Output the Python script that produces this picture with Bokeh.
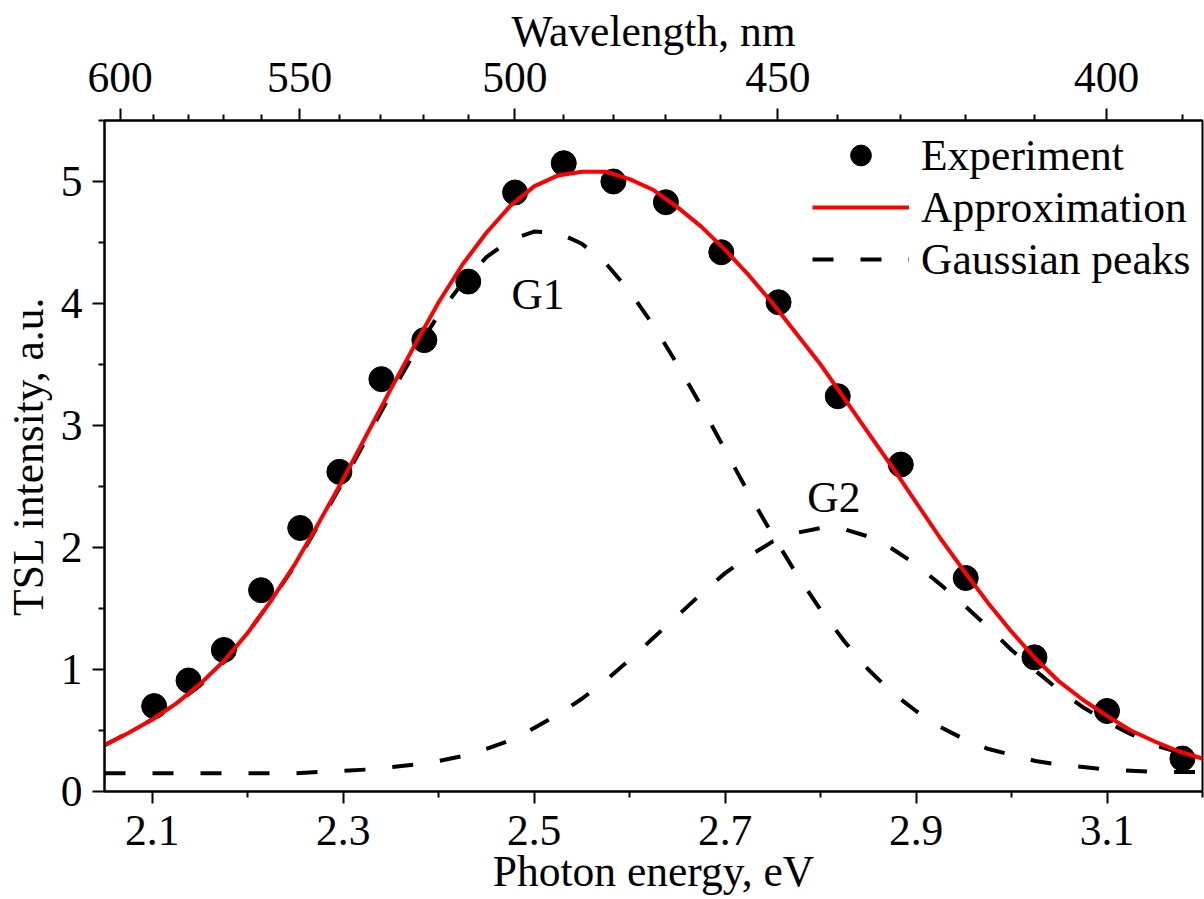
from bokeh.plotting import figure
from bokeh.models import (Range1d, LinearAxis, FixedTicker, CustomJSTickFormatter,
                          Legend, LegendItem, ColumnDataSource)
from bokeh.embed import file_html
from bokeh.resources import INLINE
from bokeh.core.properties import value

# ---------------- data ----------------
exp_energy = [2.102, 2.138, 2.175, 2.214, 2.255, 2.296, 2.340, 2.385, 2.431, 2.480,
              2.531, 2.583, 2.638, 2.696, 2.756, 2.818, 2.884, 2.952, 3.024, 3.100, 3.179]
exp_intensity = [0.70, 0.91, 1.16, 1.65, 2.16, 2.62, 3.38, 3.70, 4.18, 4.91,
                 5.15, 5.00, 4.83, 4.42, 4.01, 3.24, 2.68, 1.75, 1.10, 0.66, 0.27]

fit_energy = [2.050, 2.075, 2.100, 2.125, 2.150, 2.175, 2.200, 2.225, 2.250, 2.275,
              2.300, 2.325, 2.350, 2.375, 2.400, 2.425, 2.450, 2.475, 2.500, 2.525,
              2.550, 2.575, 2.600, 2.625, 2.650, 2.675, 2.700, 2.725, 2.750, 2.775,
              2.800, 2.825, 2.850, 2.875, 2.900, 2.925, 2.950, 2.975, 3.000, 3.025,
              3.050, 3.075, 3.100, 3.125, 3.150, 3.175, 3.200]
fit_total = [0.38, 0.48, 0.59, 0.72, 0.88, 1.07, 1.30, 1.57, 1.87, 2.21,
             2.56, 2.93, 3.30, 3.66, 4.01, 4.32, 4.58, 4.80, 4.96, 5.05,
             5.08, 5.08, 5.02, 4.93, 4.79, 4.63, 4.44, 4.23, 4.00, 3.75,
             3.50, 3.22, 2.94, 2.66, 2.37, 2.08, 1.81, 1.55, 1.31, 1.09,
             0.90, 0.75, 0.62, 0.50, 0.41, 0.33, 0.27]
fit_g1 = [0.38, 0.48, 0.59, 0.72, 0.87, 1.06, 1.30, 1.57, 1.86, 2.20,
          2.54, 2.90, 3.26, 3.60, 3.91, 4.17, 4.38, 4.52, 4.59, 4.58,
          4.49, 4.33, 4.10, 3.82, 3.50, 3.16, 2.80, 2.44, 2.10, 1.78,
          1.49, 1.23, 1.00, 0.81, 0.66, 0.53, 0.43, 0.35, 0.30, 0.25,
          0.22, 0.20, 0.18, 0.17, 0.16, 0.16, 0.16]
fit_g2 = [0.15, 0.15, 0.15, 0.15, 0.15, 0.15, 0.15, 0.15, 0.15, 0.16,
          0.17, 0.18, 0.20, 0.22, 0.25, 0.29, 0.35, 0.42, 0.52, 0.63,
          0.76, 0.91, 1.08, 1.26, 1.44, 1.62, 1.79, 1.93, 2.05, 2.12,
          2.16, 2.15, 2.09, 1.99, 1.86, 1.70, 1.53, 1.35, 1.16, 0.99,
          0.83, 0.69, 0.57, 0.47, 0.38, 0.32, 0.27]

peak_labels = ["G1", "G2"]
peak_label_energy = [2.504, 2.814]
peak_label_intensity = [4.08, 2.41]

energy_major_ticks = [2.1, 2.3, 2.5, 2.7, 2.9, 3.1]
energy_minor_ticks = [2.2, 2.4, 2.6, 2.8, 3.0, 3.2]
intensity_major_ticks = [0, 1, 2, 3, 4, 5]
intensity_minor_ticks = [0.5, 1.5, 2.5, 3.5, 4.5, 5.5]
wavelength_major_ticks = [600, 550, 500, 450, 400]
wavelength_minor_ticks = [590, 580, 570, 560, 540, 530, 520, 510, 490, 480,
                          470, 460, 440, 430, 420, 410, 390]
HC = 1239.84  # eV*nm

x_title = "Photon energy, eV"
y_title = "TSL intensity, a.u."
top_title = "Wavelength, nm"

FONT = "Liberation Serif"
FS = "43.5px"

p = figure(width=1204, height=899, x_range=Range1d(2.05, 3.2), y_range=Range1d(0, 5.5),
           output_backend="svg", toolbar_location=None,
           min_border_left=103, min_border_right=2, min_border_top=120, min_border_bottom=108)
p.xgrid.visible = False
p.ygrid.visible = False
p.outline_line_color = "black"
p.outline_line_width = 2
p.background_fill_color = "white"
p.border_fill_color = "white"


def style_axis(ax, standoff, title, title_standoff):
    ax.axis_line_width = 2
    ax.axis_line_color = "black"
    ax.major_tick_line_width = 2
    ax.minor_tick_line_width = 2
    ax.major_tick_line_color = "black"
    ax.minor_tick_line_color = "black"
    ax.major_tick_out = 12
    ax.major_tick_in = 0
    ax.minor_tick_out = 6
    ax.minor_tick_in = 0
    ax.major_label_text_font = FONT
    ax.major_label_text_font_size = FS
    ax.major_label_text_color = "black"
    ax.major_label_standoff = standoff
    ax.axis_label = title
    ax.axis_label_text_font = FONT
    ax.axis_label_text_font_size = FS
    ax.axis_label_text_font_style = "normal"
    ax.axis_label_text_color = "black"
    ax.axis_label_standoff = title_standoff


xb = p.xaxis[0]
xb.ticker = FixedTicker(ticks=energy_major_ticks, minor_ticks=energy_minor_ticks)
style_axis(xb, 12, x_title, -1)

yl = p.yaxis[0]
yl.ticker = FixedTicker(ticks=intensity_major_ticks, minor_ticks=intensity_minor_ticks)
style_axis(yl, 10, y_title, 6)

top_ticks = [HC / w for w in wavelength_major_ticks]
top_minor = [HC / w for w in wavelength_minor_ticks]
xt = LinearAxis(ticker=FixedTicker(ticks=top_ticks, minor_ticks=top_minor),
                formatter=CustomJSTickFormatter(args=dict(hc=HC),
                                                code="return Math.round(hc / tick).toFixed(0);"))
style_axis(xt, 17, top_title, 5)
p.add_layout(xt, "above")

src_exp = ColumnDataSource(dict(x=exp_energy, y=exp_intensity))
src_fit = ColumnDataSource(dict(x=fit_energy, total=fit_total, g1=fit_g1, g2=fit_g2))

r_pts = p.scatter("x", "y", source=src_exp, size=25, marker="circle",
                  fill_color="black", line_color="black")
r_g1 = p.line("x", "g1", source=src_fit, line_color="black", line_width=4,
              line_dash="21 27")
r_g2 = p.line("x", "g2", source=src_fit, line_color="black", line_width=4,
              line_dash="21 27")
r_tot = p.line("x", "total", source=src_fit, line_color="#ff0000", line_width=4)

p.text(x=peak_label_energy, y=peak_label_intensity, text=peak_labels,
       text_font=value(FONT), text_font_size=FS, text_color="black",
       text_align="center", text_baseline="alphabetic")

legend = Legend(items=[LegendItem(label="Experiment", renderers=[r_pts]),
                       LegendItem(label="Approximation", renderers=[r_tot]),
                       LegendItem(label="Gaussian peaks", renderers=[r_g1])],
                location=(708, 506))
legend.border_line_alpha = 0
legend.background_fill_alpha = 0
legend.padding = 0
legend.margin = 0
legend.spacing = 0
legend.glyph_width = 97
legend.glyph_height = 52
legend.label_height = 52
legend.label_standoff = 12
legend.label_text_font = FONT
legend.label_text_font_size = FS
legend.label_text_color = "black"
legend.label_text_baseline = "middle"
p.add_layout(legend)

open("out.html", "w").write(file_html(p, INLINE))
